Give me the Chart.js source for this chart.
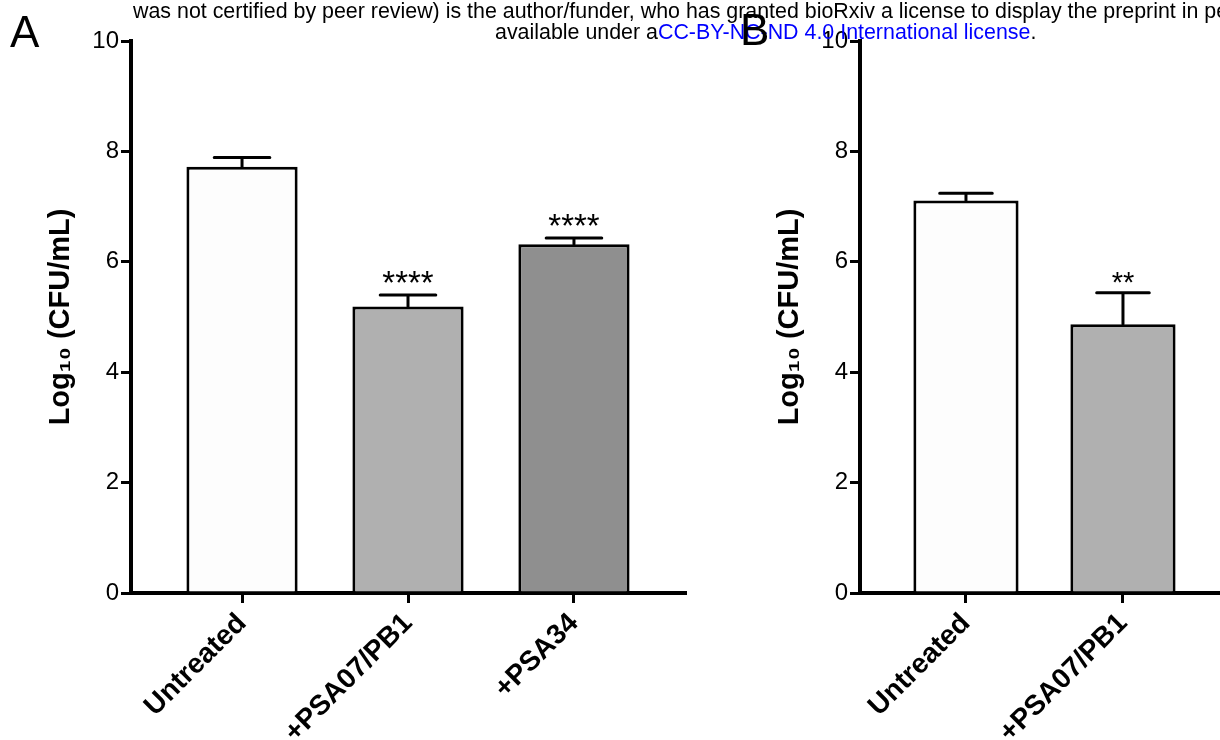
<!DOCTYPE html>
<html>
<head>
<meta charset="utf-8">
<script src="https://cdn.jsdelivr.net/npm/chart.js@4.4.1/dist/chart.umd.min.js"></script>
<style>
  html, body { margin: 0; padding: 0; background: #fff; }
  body { width: 1220px; height: 740px; position: relative; overflow: hidden;
         font-family: "Liberation Sans", Arial, sans-serif; }
  canvas { position: absolute; top: 0; }
  .note { position: absolute; font-size: 21.4px; line-height: 24px; white-space: nowrap; color: #000; }
  .note span { color: #0000ff; }
  .letter { position: absolute; font-size: 44px; line-height: 50px; color: #000; }
</style>
</head>
<body>
<canvas id="chartA" width="700" height="740" style="left:0"></canvas>
<canvas id="chartB" width="491" height="740" style="left:729px"></canvas>

<div class="note" style="left:133px; top:-1px">was not certified by peer review) is the author/funder, who has granted bioRxiv a license to display the preprint in perpetuity. It is made</div>
<div class="note" style="left:495px; top:20px">available under a<span>CC-BY-NC-ND 4.0 International license</span>.</div>
<div class="letter" style="left:10px; top:7px">A</div>
<div class="letter" style="left:740px; top:5px">B</div>

<script>
// panel A
const groupsA = ["Untreated", "+PSA07/PB1", "+PSA34"];
const meansA = [7.72, 5.19, 6.32];
const semA = [0.17, 0.21, 0.11];
const starsA = ["", "****", "****"];

// panel B
const groupsB = ["Untreated", "+PSA07/PB1"];
const meansB = [7.11, 4.87];
const semB = [0.13, 0.57];
const starsB = ["", "**"];

const yMin = 0;
const yMax = 10;
const yStep = 2;

const FONT = "'Liberation Sans', Arial, sans-serif";

// upper error bar + significance stars above each bar
const errorBars = {
    id: "errorBars",
    afterDatasetsDraw(chart, args, opts) {
        const ctx = chart.ctx;
        const x = chart.scales.x;
        const y = chart.scales.y;
        const bars = chart.getDatasetMeta(0).data;
        ctx.save();
        ctx.strokeStyle = "#000";
        ctx.fillStyle = "#000";
        ctx.lineWidth = 3;
        ctx.lineCap = "round";
        bars.forEach((bar, i) => {
            const px = x.getPixelForValue(i);
            const base = y.getPixelForValue(opts.means[i]);
            const top = y.getPixelForValue(opts.means[i] + opts.sem[i]);
            const half = bar.width / 4;
            ctx.beginPath();
            ctx.moveTo(px, base);
            ctx.lineTo(px, top);
            ctx.moveTo(px - half, top);
            ctx.lineTo(px + half, top);
            ctx.stroke();
            if (opts.stars[i]) {
                ctx.font = opts.starSize + "px " + FONT;
                ctx.textAlign = "center";
                ctx.textBaseline = "alphabetic";
                ctx.fillText(opts.stars[i], px, top - 1);
            }
        });
        ctx.restore();
    }
};

function makePanel(id, groups, means, sem, stars, fills, xMin, xMax, rightPad, starSize) {
    return new Chart(document.getElementById(id), {
        type: "bar",
        data: {
            datasets: [{
                data: means.map((v, i) => ({ x: i, y: v })),
                backgroundColor: fills,
                borderColor: "#000",
                borderWidth: 3,
                borderSkipped: "bottom",
                barPercentage: 0.67,
                categoryPercentage: 1
            }]
        },
        options: {
            responsive: false,
            animation: false,
            devicePixelRatio: 1,
            layout: { padding: { top: 41, right: rightPad, left: 0, bottom: 0 } },
            plugins: {
                legend: { display: false },
                tooltip: { enabled: false },
                errorBars: { means: means, sem: sem, stars: stars, starSize: starSize }
            },
            scales: {
                x: {
                    type: "linear",
                    min: xMin,
                    max: xMax,
                    offset: false,
                    afterFit: (s) => { s.height = 147; },
                    border: { display: true, color: "#000", width: 4 },
                    grid: {
                        display: true,
                        offset: false,
                        drawOnChartArea: false,
                        drawTicks: true,
                        tickLength: 10,
                        tickWidth: 3,
                        lineWidth: 3,
                        color: "#000"
                    },
                    ticks: {
                        stepSize: 1,
                        includeBounds: false,
                        autoSkip: false,
                        minRotation: 45,
                        maxRotation: 45,
                        padding: 4,
                        color: "#000",
                        font: { family: FONT, size: 28, weight: "bold" },
                        callback: (v) => Number.isInteger(v) ? groups[v] : ""
                    }
                },
                y: {
                    min: yMin,
                    max: yMax,
                    afterFit: (s) => { s.width = 131; },
                    border: { display: true, color: "#000", width: 4 },
                    grid: {
                        display: true,
                        drawOnChartArea: false,
                        drawTicks: true,
                        tickLength: 10,
                        tickWidth: 3,
                        lineWidth: 3,
                        color: "#000"
                    },
                    ticks: {
                        stepSize: yStep,
                        padding: 2,
                        color: "#000",
                        font: { family: FONT, size: 24 }
                    },
                    title: {
                        display: true,
                        text: "Log₁₀ (CFU/mL)",
                        color: "#000",
                        font: { family: FONT, size: 29, weight: "bold" },
                        padding: { top: 44, bottom: 0 }
                    }
                }
            }
        },
        plugins: [errorBars]
    });
}

makePanel("chartA", groupsA, meansA, semA, starsA,
    ["#fdfdfd", "#b0b0b0", "#8f8f8f"], -0.669, 2.669, 15, 33);
makePanel("chartB", groupsB, meansB, semB, starsB,
    ["#fdfdfd", "#b0b0b0"], -0.675, 1.618, 0, 29);
</script>
</body>
</html>
